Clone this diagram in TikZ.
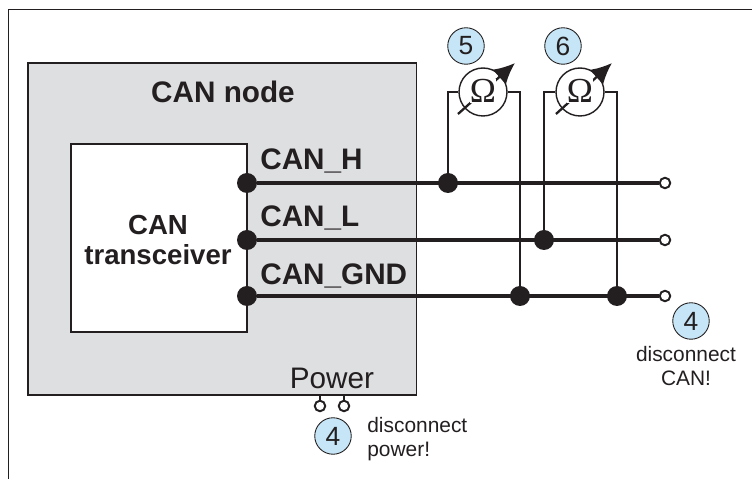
\documentclass[tikz,border=0pt]{standalone}
\usepackage{fontspec}
\setmainfont{Liberation Sans}
\newfontfamily\ohmfont{Liberation Serif}
\usetikzlibrary{arrows.meta}
\definecolor{nodegray}{HTML}{DEDFE1}
\definecolor{stepblue}{HTML}{C6E5F6}
\definecolor{inkblack}{HTML}{231F20}
\tikzset{
    every node/.style={text=inkblack},
    bigbold/.style={font=\fontsize{16.9}{20}\selectfont\bfseries},
    smalltext/.style={font=\fontsize{11.9}{13.6}\selectfont},
    dot/.style={circle,fill=inkblack,draw=none,minimum size=0.4cm,inner sep=0pt},
    term/.style={circle,fill=white,draw=inkblack,line width=1.1pt,minimum size=0.21cm,inner sep=0pt},
    meter/.style={circle,fill=white,draw=inkblack,line width=0.8pt,minimum size=0.96cm,inner sep=0pt},
    ohmsign/.style={fill=white,inner sep=0pt,font=\ohmfont\fontsize{20}{22}\selectfont},
    stepmark/.style={circle,fill=stepblue,draw=inkblack,line width=0.5pt,minimum size=0.73cm,inner sep=0pt,font=\fontsize{15}{18}\selectfont},
    wire/.style={draw=inkblack,line width=2pt},
    lead/.style={draw=inkblack,line width=0.9pt},
}
\begin{document}
\begin{tikzpicture}[x=0.02cm,y=-0.02cm]
    \useasboundingbox (0,0) rectangle (752,479);
    % outer frame
    \draw[inkblack,line width=0.6pt](8.5,479)--(8.5,9.5)--(752,9.5);
    % boxes
    \draw[fill=nodegray,draw=inkblack,line width=1.1pt](28,63) rectangle (416.5,395);
    \draw[fill=white,draw=inkblack,line width=1.1pt](71,144) rectangle (247,332);
    \node[bigbold] at (223,92) {CAN node};
    \node[font=\fontsize{15.7}{17.6}\selectfont\bfseries,align=center] at (158,240) {CAN\\transceiver};
    \node[bigbold,anchor=base west,inner sep=0pt] at (260,170) {CAN\_H};
    \node[bigbold,anchor=base west,inner sep=0pt] at (260,227) {CAN\_L};
    \node[bigbold,anchor=base west,inner sep=0pt] at (260,285) {CAN\_GND};
    \node[font=\fontsize{16.9}{20}\selectfont] at (332,378) {Power};
    % bus wires
    \node[dot] (hstart) at (247,183) {};
    \node[dot] (lstart) at (247,240) {};
    \node[dot] (gstart) at (247,296) {};
    \node[term] (hend) at (665,183) {};
    \node[term] (lend) at (665,240) {};
    \node[term] (gend) at (665,296) {};
    \node[dot] (hjoin) at (448,183) {};
    \node[dot] (ljoin) at (544,240) {};
    \node[dot] (gjoina) at (520,296) {};
    \node[dot] (gjoinb) at (617,296) {};
    \draw[wire](hstart)--(hend);
    \draw[wire](lstart)--(lend);
    \draw[wire](gstart)--(gend);
    % meters
    \node[meter] (ohma) at (483,92) {};
    \node[meter] (ohmb) at (580,92) {};
    \draw[lead](hjoin) |- (ohma);
    \draw[lead](ohma) -| (gjoina);
    \draw[lead](ljoin) |- (ohmb);
    \draw[lead](ohmb) -| (gjoinb);
    \coordinate (ohmatail) at (458,114);
    \coordinate (ohmatip) at (515,63);
    \coordinate (ohmbtail) at (556,114);
    \coordinate (ohmbtip) at (612,63);
    \draw[inkblack,line width=1.3pt,-{Latex[length=0.42cm,width=0.4cm]}](ohmatail)--(ohmatip);
    \draw[inkblack,line width=1.3pt,-{Latex[length=0.42cm,width=0.4cm]}](ohmbtail)--(ohmbtip);
    \node[ohmsign] at (483,91) {Ω};
    \node[ohmsign] at (580,91) {Ω};
    % power terminals
    \coordinate (powera) at (320,395);
    \coordinate (powerb) at (344,395);
    \node[term] (terma) at (320,406) {};
    \node[term] (termb) at (344,406) {};
    \draw[inkblack,line width=1.1pt](powera)--(terma);
    \draw[inkblack,line width=1.1pt](powerb)--(termb);
    % step marks
    \node[stepmark] (markfive) at (466,46) {5};
    \node[stepmark] (marksix) at (563,46) {6};
    \node[stepmark] (markcan) at (691,321) {4};
    \node[stepmark] (markpower) at (333,436) {4};
    \node[smalltext,align=center] (textcan) at (686,366) {disconnect\\CAN!};
    \node[smalltext,align=left,anchor=west,inner sep=0pt] (textpower) at (367,439) {disconnect\\power!};
\end{tikzpicture}
\end{document}
